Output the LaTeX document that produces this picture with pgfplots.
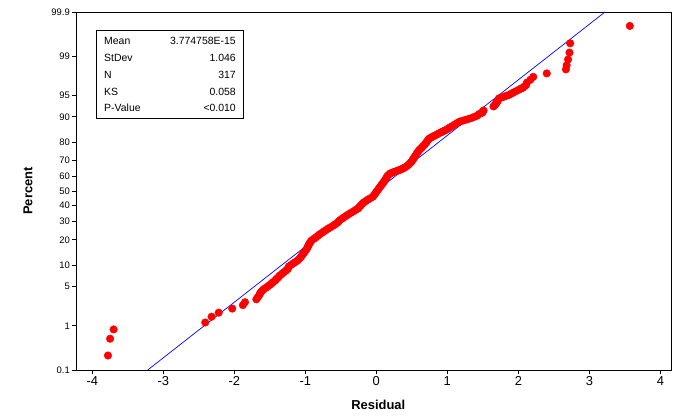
\documentclass[border=0pt]{standalone}
\usepackage{fontspec}
\setmainfont{Liberation Sans}
\usepackage{pgfplots}
\pgfplotsset{compat=1.18}
\begin{document}
\begin{tikzpicture}
\begin{axis}[name=ax, at={(0,0)}, anchor=south west,
  scale only axis, width=595bp, height=358bp,
  xmin=-4.23, xmax=4.15, ymin=-3.0902, ymax=3.0902,
  xtick={-4,-3,-2,-1,0,1,2,3,4},
  xticklabels={-4,-3,-2,-1,0,1,2,3,4},
  ytick={-3.0902,-2.3263,-1.6449,-1.2816,-0.8416,-0.5244,-0.2533,0,0.2533,0.5244,0.8416,1.2816,1.6449,2.3263,3.0902},
  yticklabels={0.1,1,5,10,20,30,40,50,60,70,80,90,95,99,99.9},
  tick align=outside, xtick pos=bottom, ytick pos=left,
  major tick length=4bp,
  tick style={black, line width=0.8pt},
  axis line style={line width=0.9pt},
  xticklabel style={font=\fontsize{13}{15}\selectfont, inner sep=2bp},
  yticklabel style={font=\fontsize{9.5}{11}\selectfont, inner sep=2bp},
  xlabel={Residual}, ylabel={Percent},
  xlabel style={font=\bfseries\fontsize{13}{15}\selectfont, at={(axis description cs:0.508,-0.0978)}, anchor=center},
  ylabel style={font=\bfseries\fontsize{13}{15}\selectfont, at={(axis description cs:-0.0807,0.5)}, anchor=center},
  clip=true,
]
\addplot[blue, line width=0.7pt] coordinates {(-3.22,-3.0902) (3.22,3.0902)};
\addplot[only marks, mark=*, mark size=3.8bp, color=red, mark options={draw=red, fill=red}] coordinates {
(-3.78,-2.84) (-3.75,-2.55) (-3.70,-2.39) (-2.41,-2.27) (-2.32,-2.17) (-2.22,-2.10)
(-2.03,-2.03) (-1.88,-1.97) (-1.85,-1.92) (-1.69,-1.87)
(-1.67,-1.835) (-1.65,-1.80) (-1.64,-1.775) (-1.63,-1.75) (-1.61,-1.725) (-1.59,-1.70)
(-1.56,-1.675) (-1.53,-1.65) (-1.505,-1.625) (-1.48,-1.60) (-1.455,-1.575) (-1.43,-1.55)
(-1.41,-1.525) (-1.39,-1.50) (-1.37,-1.475) (-1.35,-1.45) (-1.325,-1.425) (-1.30,-1.40)
(-1.275,-1.375) (-1.25,-1.35) (-1.24,-1.325) (-1.23,-1.30) (-1.20,-1.275) (-1.17,-1.25)
(-1.14,-1.225) (-1.11,-1.20) (-1.09,-1.175) (-1.07,-1.15) (-1.055,-1.125) (-1.04,-1.10)
(-1.025,-1.075) (-1.01,-1.05) (-0.995,-1.025) (-0.98,-1.00) (-0.97,-0.975) (-0.96,-0.95)
(-0.95,-0.925) (-0.94,-0.90) (-0.925,-0.875) (-0.91,-0.85) (-0.88,-0.825) (-0.85,-0.80)
(-0.825,-0.775) (-0.80,-0.75) (-0.77,-0.725) (-0.74,-0.70) (-0.71,-0.675) (-0.68,-0.65)
(-0.645,-0.625) (-0.61,-0.60) (-0.58,-0.575) (-0.55,-0.55) (-0.53,-0.525) (-0.51,-0.50)
(-0.48,-0.475) (-0.45,-0.45) (-0.42,-0.425) (-0.39,-0.40) (-0.355,-0.375) (-0.32,-0.35)
(-0.29,-0.325) (-0.255,-0.30) (-0.24,-0.275) (-0.22,-0.25) (-0.20,-0.225) (-0.18,-0.20)
(-0.15,-0.175) (-0.12,-0.15) (-0.085,-0.125) (-0.05,-0.10) (-0.035,-0.075) (-0.02,-0.05)
(-0.005,-0.025) (0.01,0.00) (0.025,0.025) (0.04,0.05) (0.055,0.075) (0.07,0.10)
(0.085,0.125) (0.10,0.15) (0.115,0.175) (0.13,0.20) (0.14,0.225) (0.15,0.25)
(0.17,0.275) (0.19,0.30) (0.22,0.315) (0.25,0.33) (0.275,0.34) (0.30,0.35)
(0.32,0.36) (0.34,0.37) (0.36,0.38) (0.38,0.39) (0.39,0.40) (0.405,0.41)
(0.43,0.43) (0.45,0.45) (0.47,0.475) (0.49,0.50) (0.505,0.525) (0.52,0.55)
(0.53,0.575) (0.545,0.60) (0.56,0.625) (0.57,0.65) (0.585,0.675) (0.60,0.70)
(0.62,0.725) (0.64,0.75) (0.66,0.775) (0.68,0.80) (0.695,0.825) (0.71,0.85)
(0.725,0.875) (0.74,0.90) (0.76,0.915) (0.78,0.93) (0.805,0.945) (0.83,0.96)
(0.86,0.98) (0.89,1.00) (0.915,1.015) (0.94,1.03) (0.965,1.045) (0.99,1.06)
(1.015,1.08) (1.04,1.10) (1.075,1.125) (1.11,1.15) (1.14,1.175) (1.175,1.20)
(1.22,1.215) (1.26,1.23) (1.30,1.245) (1.34,1.26) (1.38,1.28) (1.42,1.30) (1.45,1.33)
(1.49,1.35) (1.50,1.37) (1.51,1.39) (1.65,1.46) (1.665,1.48) (1.68,1.50) (1.69,1.52)
(1.70,1.54) (1.71,1.56) (1.72,1.58) (1.73,1.60) (1.765,1.615) (1.80,1.63) (1.835,1.645)
(1.87,1.66) (1.90,1.68) (1.93,1.70) (1.97,1.725) (2.01,1.75) (2.035,1.765) (2.06,1.78)
(2.085,1.805) (2.11,1.83) (2.12,1.87) (2.17,1.92) (2.21,1.97) (2.40,2.03) (2.67,2.10)
(2.68,2.17) (2.70,2.27) (2.72,2.39) (2.73,2.55) (3.57,2.85)
};
\end{axis}
\draw[line width=0.8pt, fill=white] ([xshift=20bp,yshift=-18bp]ax.north west) rectangle ([xshift=167bp,yshift=-106bp]ax.north west);
\begin{scope}[every node/.style={inner sep=0pt, font=\fontsize{10.5}{12}\selectfont}]
\node[anchor=west] at ([xshift=28bp,yshift=-29bp]ax.north west) {Mean};
\node[anchor=west] at ([xshift=28bp,yshift=-46bp]ax.north west) {StDev};
\node[anchor=west] at ([xshift=28bp,yshift=-63bp]ax.north west) {N};
\node[anchor=west] at ([xshift=28bp,yshift=-80bp]ax.north west) {KS};
\node[anchor=west] at ([xshift=28bp,yshift=-96bp]ax.north west) {P-Value};
\node[anchor=east] at ([xshift=160bp,yshift=-29bp]ax.north west) {3.774758E-15};
\node[anchor=east] at ([xshift=160bp,yshift=-46bp]ax.north west) {1.046};
\node[anchor=east] at ([xshift=160bp,yshift=-63bp]ax.north west) {317};
\node[anchor=east] at ([xshift=160bp,yshift=-80bp]ax.north west) {0.058};
\node[anchor=east] at ([xshift=160bp,yshift=-96bp]ax.north west) {<0.010};
\end{scope}
\path ([xshift=-76bp,yshift=-46bp]ax.south west) rectangle ([xshift=6bp,yshift=12bp]ax.north east);
\end{tikzpicture}
\end{document}
